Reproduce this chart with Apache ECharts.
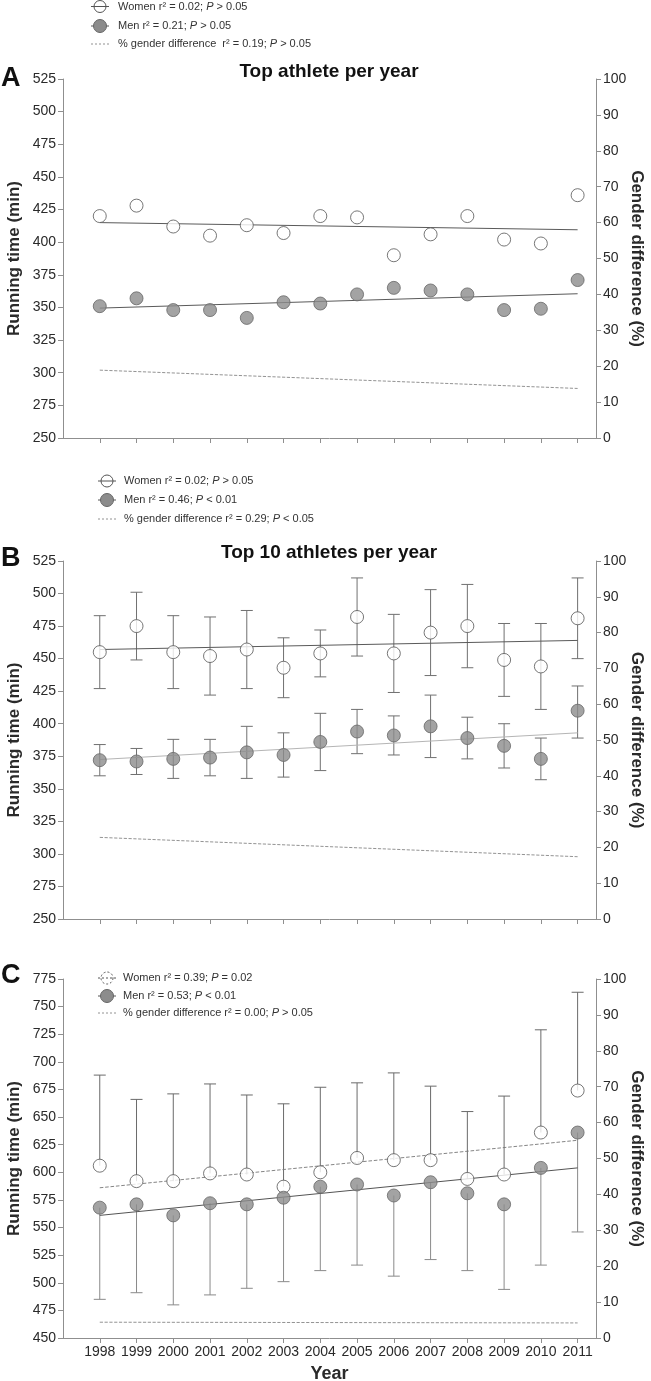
<!DOCTYPE html>
<html><head><meta charset="utf-8">
<script src="https://cdn.jsdelivr.net/npm/echarts@6/dist/echarts.min.js"></script>
<style>html,body{margin:0;padding:0;background:#fff}#c{width:651px;height:1381px}</style>
</head><body><div id="c"></div>
<script>
// ---------- DATA ----------
const years = [1998,1999,2000,2001,2002,2003,2004,2005,2006,2007,2008,2009,2010,2011];
const trendYears = [1998, 2011];

// Panel A: top athlete per year
const A_women = [420,428,412,405,413,407,420,419,390,406,420,402,399,436];
const A_men   = [351,357,348,348,342,354,353,360,365,363,360,348,349,371];
const A_womenTrend = [415,409.5];
const A_menTrend   = [349.5,360.5];
const A_diffTrend  = [18.9,13.8];

// Panel B: top 10 athletes per year (mean, upper, lower)
const B_women   = [455,475,455,452,457,443,454,482,454,470,475,449,444,481];
const B_womenHi = [483,501,483,482,487,466,472,512,484,503,507,477,477,512];
const B_womenLo = [427,449,427,422,427,420,436,452,424,437,443,421,411,450];
const B_men     = [372,371,373,374,378,376,386,394,391,398,389,383,373,410];
const B_menHi   = [384,381,388,388,398,393,408,411,406,422,405,400,389,429];
const B_menLo   = [360,361,358,360,358,359,364,377,376,374,373,366,357,389];
const B_womenTrend = [457,464];
const B_menTrend   = [372.5,393];
const B_diffTrend  = [22.8,17.4];

// Panel C: (women mean + upper, men mean + lower)
const C_women   = [606,592,592,599,598,587,600,613,611,611,594,598,636,674];
const C_womenHi = [688,666,671,680,670,662,677,681,690,678,655,669,729,763];
const C_men     = [568,571,561,572,571,577,587,589,579,591,581,571,604,636];
const C_menLo   = [485,491,480,489,495,501,511,516,506,521,511,494,516,546];
const C_womenTrend = [586,629];
const C_menTrend   = [561,604];
const C_diffTrend  = [4.4,4.2];

// Axis ranges / ticks
const leftRanges = [[250,525],[250,525],[450,775]];
const leftInterval = 25;
const rightRange = [0,100];
const rightInterval = 10;

// Texts
const panelLetters = ['A','B','C'];
const panelTitles = ['Top athlete per year','Top 10 athletes per year',''];
const leftName = 'Running time (min)';
const rightName = 'Gender difference (%)';
const xName = 'Year';
const legendTexts = [
  [['Women r² = 0.02; ','P',' > 0.05'],['Men r² = 0.21; ','P',' > 0.05'],['% gender difference  r² = 0.19; ','P',' > 0.05']],
  [['Women r² = 0.02; ','P',' > 0.05'],['Men r² = 0.46; ','P',' < 0.01'],['% gender difference r² = 0.29; ','P',' < 0.05']],
  [['Women r² = 0.39; ','P',' = 0.02'],['Men r² = 0.53; ','P',' < 0.01'],['% gender difference r² = 0.00; ','P',' > 0.05']]
];

// ---------- CHART ----------
const FONT = 'Liberation Sans, Arial, sans-serif';
const AX = '#8f8f8f';
const TXT = '#2a2a2a';
const grids = [
  {left:63, right:55, top:79, height:359, containLabel:false, outerBoundsMode:'none'},
  {left:63, right:55, top:561, height:358, containLabel:false, outerBoundsMode:'none'},
  {left:63, right:55, top:979, height:359, containLabel:false, outerBoundsMode:'none'}
];

const xAxes = grids.map((g,i)=>({
  gridIndex:i, type:'value', min:1997, max:2011.5,
  axisLine:{show:true, onZero:false, lineStyle:{color:AX, width:1}},
  axisTick:{show:true, inside:false, length:5, customValues:years, lineStyle:{color:AX}},
  axisLabel:{show:i===2, customValues:years, formatter:v=>String(v), fontSize:14, color:TXT, margin:7, fontFamily:FONT},
  splitLine:{show:false},
  name: i===2 ? xName : '', nameLocation:'middle', nameGap:27,
  nameTextStyle:{fontWeight:'bold', fontSize:18, color:TXT, fontFamily:FONT}
}));
const yAxes = [];
grids.forEach((g,i)=>{
  yAxes.push({
    gridIndex:i, type:'value', position:'left', min:leftRanges[i][0], max:leftRanges[i][1], interval:leftInterval,
    axisLine:{show:true, onZero:false, lineStyle:{color:AX}},
    axisTick:{show:true, length:5, lineStyle:{color:AX}},
    axisLabel:{fontSize:14, color:TXT, margin:7, fontFamily:FONT},
    splitLine:{show:false},
    name:leftName, nameLocation:'middle', nameRotate:90, nameGap:40, nameMoveOverlap:false,
    nameTextStyle:{fontWeight:'bold', fontSize:17, color:TXT, fontFamily:FONT}
  });
  yAxes.push({
    gridIndex:i, type:'value', position:'right', min:rightRange[0], max:rightRange[1], interval:rightInterval,
    axisLine:{show:true, onZero:false, lineStyle:{color:AX}},
    axisTick:{show:true, length:5, lineStyle:{color:AX}},
    axisLabel:{fontSize:14, color:TXT, margin:7, fontFamily:FONT},
    splitLine:{show:false},
    name:rightName, nameLocation:'middle', nameRotate:-90, nameGap:32, nameMoveOverlap:false,
    nameTextStyle:{fontWeight:'bold', fontSize:17, color:TXT, fontFamily:FONT}
  });
});

const WOMEN_STYLE = {color:'#ffffff', borderColor:'#555555', borderWidth:1};
const MEN_STYLE = {color:'#8c8c8c', borderColor:'#666666', borderWidth:1};
const pts = arr => years.map((y,k)=>[y, arr[k]]);
const trend = arr => trendYears.map((y,k)=>[y, arr[k]]);

function scatter(i, arr, style){
  return {type:'scatter', xAxisIndex:i, yAxisIndex:2*i, symbol:'circle', symbolSize:13,
    data:pts(arr), itemStyle:style, z:5, silent:true};
}
function line(i, right, arr, color, type, width){
  return {type:'line', xAxisIndex:i, yAxisIndex:2*i+(right?1:0), data:trend(arr), symbol:'none',
    lineStyle:{color:color, width:width||1, type:type||'solid'}, z:3, silent:true, animation:false};
}
function errbars(i, lo, hi, capLo, capHi, color){
  return {type:'custom', xAxisIndex:i, yAxisIndex:2*i, silent:true, z:2,
    data: years.map((y,k)=>[y, lo[k], hi[k]]),
    renderItem:(params, api)=>{
      const a = api.coord([api.value(0), api.value(1)]);
      const b = api.coord([api.value(0), api.value(2)]);
      const w = 6, st = {stroke:color, lineWidth:1};
      const ch = [{type:'line', shape:{x1:a[0],y1:a[1],x2:b[0],y2:b[1]}, style:st}];
      if (capLo) ch.push({type:'line', shape:{x1:a[0]-w,y1:a[1],x2:a[0]+w,y2:a[1]}, style:st});
      if (capHi) ch.push({type:'line', shape:{x1:b[0]-w,y1:b[1],x2:b[0]+w,y2:b[1]}, style:st});
      return {type:'group', children:ch};
    }};
}

const series = [
  // A
  line(0,false,A_womenTrend,'#5a5a5a'),
  line(0,false,A_menTrend,'#5a5a5a'),
  line(0,true,A_diffTrend,'#777777','dashed',0.8),
  scatter(0,A_women,WOMEN_STYLE),
  scatter(0,A_men,MEN_STYLE),
  // B
  errbars(1,B_womenLo,B_womenHi,true,true,'#707070'),
  errbars(1,B_menLo,B_menHi,true,true,'#707070'),
  line(1,false,B_womenTrend,'#5a5a5a'),
  line(1,false,B_menTrend,'#b5b5b5'),
  line(1,true,B_diffTrend,'#777777','dashed',0.8),
  scatter(1,B_women,WOMEN_STYLE),
  scatter(1,B_men,MEN_STYLE),
  // C
  errbars(2,C_women,C_womenHi,false,true,'#6a6a6a'),
  errbars(2,C_menLo,C_men,true,false,'#8a8a8a'),
  line(2,false,C_womenTrend,'#777777','dashed',0.9),
  line(2,false,C_menTrend,'#555555'),
  line(2,true,C_diffTrend,'#777777','dashed',0.8),
  scatter(2,C_women,WOMEN_STYLE),
  scatter(2,C_men,MEN_STYLE)
];

// graphics: panel letters, titles, legends
const graphic = [];
const letterY = [79, 559, 976];
const titleY = [72, 553, 0];
panelLetters.forEach((L,i)=>{
  graphic.push({type:'text', left:1, top:letterY[i]-14, style:{text:L, font:'bold 27px '+FONT, fill:'#111'}});
  if (panelTitles[i]) graphic.push({type:'text', x:329, y:titleY[i], style:{text:panelTitles[i], font:'bold 19px '+FONT, fill:'#111', align:'center', verticalAlign:'middle'}});
});
const legendPos = [
  {x:100, tx:118, ys:[6.5,26,44]},
  {x:107, tx:124, ys:[481,500,519]},
  {x:107, tx:123, ys:[978,996,1013]}
];
legendTexts.forEach((rows,i)=>{
  const p = legendPos[i];
  rows.forEach((parts,r)=>{
    const y = p.ys[r];
    if (r===0){
      const dash = i===2 ? [2,2] : null;
      graphic.push({type:'circle', shape:{cx:p.x, cy:y, r:6}, style:{fill:'#fff', stroke:'#555', lineWidth:1, lineDash:dash}});
      graphic.push({type:'line', shape:{x1:p.x-9,y1:y,x2:p.x+9,y2:y}, style:{stroke:'#555', lineWidth:1, lineDash:dash}});
    } else if (r===1){
      graphic.push({type:'line', shape:{x1:p.x-9,y1:y,x2:p.x+9,y2:y}, style:{stroke:'#555', lineWidth:1}});
      graphic.push({type:'circle', shape:{cx:p.x, cy:y, r:6.5}, style:{fill:'#8c8c8c', stroke:'#666', lineWidth:1}});
    } else {
      graphic.push({type:'line', shape:{x1:p.x-9,y1:y,x2:p.x+9,y2:y}, style:{stroke:'#777', lineWidth:0.8, lineDash:[2,2]}});
    }
    graphic.push({type:'text', x:p.tx, y:y, style:{
      text:'{n|'+parts[0]+'}{i|'+parts[1]+'}{n|'+parts[2]+'}',
      verticalAlign:'middle', align:'left',
      rich:{n:{fontSize:11, fill:'#333', fontFamily:FONT}, i:{fontSize:11, fill:'#333', fontStyle:'italic', fontFamily:FONT}}
    }});
  });
});

const chart = echarts.init(document.getElementById('c'), null, {renderer:'canvas'});
chart.setOption({
  backgroundColor:'#ffffff',
  animation:false,
  textStyle:{fontFamily:FONT},
  grid:grids,
  xAxis:xAxes,
  yAxis:yAxes,
  series:series,
  graphic:graphic
});
</script>
</body></html>
